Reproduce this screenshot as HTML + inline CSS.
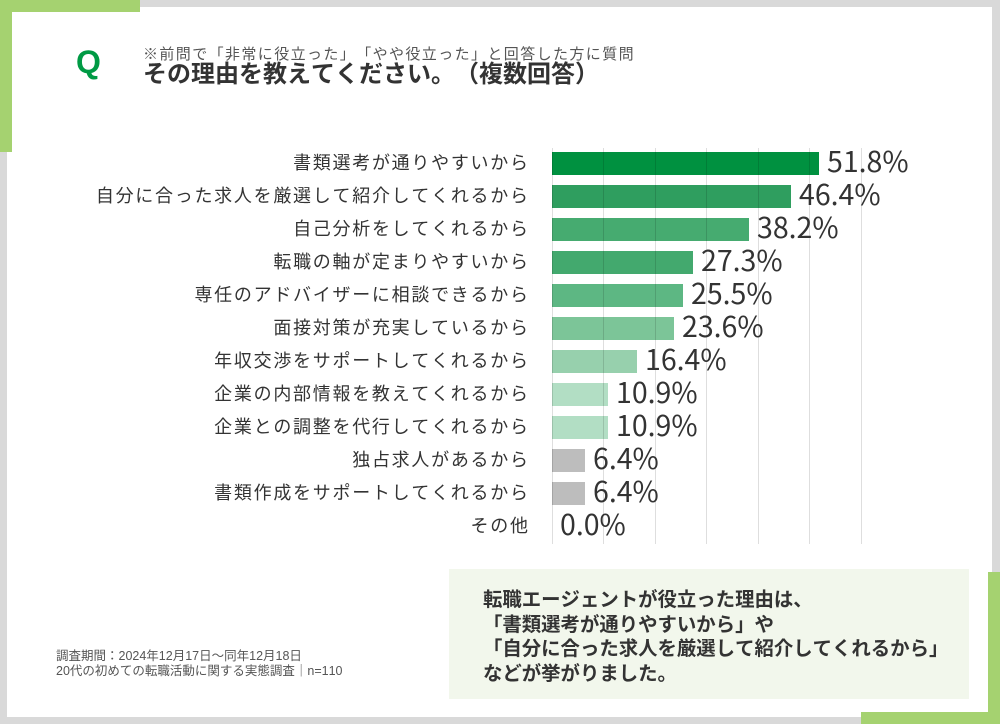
<!DOCTYPE html>
<html lang="ja">
<head>
<meta charset="utf-8">
<style>
  html,body{margin:0;padding:0;}
  body{width:1000px;height:724px;position:relative;overflow:hidden;background:#d9d9d9;
       font-family:"Liberation Sans","Noto Sans CJK JP",sans-serif;color:#333;
       text-spacing-trim:space-all;font-kerning:none;}
  .abs{position:absolute;}
  .panel{left:7px;top:7px;width:985px;height:710px;background:#fff;}
  .g{background:#a5d270;}
  .q{left:76px;top:42px;height:40px;line-height:40px;font-size:32px;font-weight:bold;color:#009a44;
     font-family:"Liberation Sans",sans-serif;}
  .sub{left:143px;top:45px;height:20px;line-height:20px;font-size:15px;letter-spacing:1.4px;color:#555;white-space:nowrap;}
  .title{left:143px;top:61px;height:28px;line-height:28px;font-size:24px;font-weight:bold;color:#333;white-space:nowrap;}
  .lbl{right:470.3px;height:24px;line-height:24px;font-size:18px;letter-spacing:1.72px;color:#333;white-space:nowrap;text-align:right;}
  .bar{left:552px;height:23px;}
  .val{height:34px;line-height:34px;font-size:28.5px;color:#333;white-space:nowrap;
       font-family:"Noto Sans CJK JP","Liberation Sans",sans-serif;}
  .grid{top:148px;width:1px;height:396px;background:rgba(0,0,0,0.13);}
  .note{left:449px;top:569px;width:520px;height:130px;background:#f2f7ec;}
  .nt{left:483px;top:588px;font-size:19.4px;line-height:24.5px;font-weight:bold;color:#333;white-space:nowrap;}
  .foot{left:56px;top:649px;font-size:12.5px;line-height:15px;color:#555;white-space:nowrap;}
</style>
</head>
<body>
<div class="abs panel"></div>
<!-- green corner accents -->
<div class="abs g" style="left:0;top:0;width:140px;height:12px;"></div>
<div class="abs g" style="left:0;top:0;width:12px;height:152px;"></div>
<div class="abs g" style="left:988px;top:572px;width:12px;height:152px;"></div>
<div class="abs g" style="left:861px;top:712px;width:139px;height:12px;"></div>

<div class="abs q">Q</div>
<div class="abs sub">※前問で「非常に役立った」「やや役立った」と回答した方に質問</div>
<div class="abs title">その理由を教えてください。（複数回答）</div>

<!-- bars -->
<div class="abs bar" style="top:152px;width:267px;background:#009140;"></div>
<div class="abs bar" style="top:185px;width:239px;background:#2f9e5f;"></div>
<div class="abs bar" style="top:218px;width:197px;background:#46ab70;"></div>
<div class="abs bar" style="top:251px;width:141px;background:#43a96e;"></div>
<div class="abs bar" style="top:284px;width:131px;background:#5db783;"></div>
<div class="abs bar" style="top:317px;width:122px;background:#7cc598;"></div>
<div class="abs bar" style="top:350px;width:85px;background:#97d0ad;"></div>
<div class="abs bar" style="top:383px;width:56px;background:#b2dec4;"></div>
<div class="abs bar" style="top:416px;width:56px;background:#b2dec4;"></div>
<div class="abs bar" style="top:449px;width:33px;background:#bdbdbd;"></div>
<div class="abs bar" style="top:482px;width:33px;background:#bdbdbd;"></div>

<!-- grid lines -->
<div class="abs grid" style="left:552px;"></div>
<div class="abs grid" style="left:603px;"></div>
<div class="abs grid" style="left:655px;"></div>
<div class="abs grid" style="left:706px;"></div>
<div class="abs grid" style="left:758px;"></div>
<div class="abs grid" style="left:809px;"></div>
<div class="abs grid" style="left:861px;"></div>

<!-- category labels -->
<div class="abs lbl" style="top:151px;">書類選考が通りやすいから</div>
<div class="abs lbl" style="top:184px;">自分に合った求人を厳選して紹介してくれるから</div>
<div class="abs lbl" style="top:217px;">自己分析をしてくれるから</div>
<div class="abs lbl" style="top:250px;">転職の軸が定まりやすいから</div>
<div class="abs lbl" style="top:283px;">専任のアドバイザーに相談できるから</div>
<div class="abs lbl" style="top:316px;">面接対策が充実しているから</div>
<div class="abs lbl" style="top:349px;">年収交渉をサポートしてくれるから</div>
<div class="abs lbl" style="top:382px;">企業の内部情報を教えてくれるから</div>
<div class="abs lbl" style="top:415px;">企業との調整を代行してくれるから</div>
<div class="abs lbl" style="top:448px;">独占求人があるから</div>
<div class="abs lbl" style="top:481px;">書類作成をサポートしてくれるから</div>
<div class="abs lbl" style="top:514px;">その他</div>

<!-- value labels -->
<div class="abs val" style="left:827px;top:144px;">51.8%</div>
<div class="abs val" style="left:799px;top:177px;">46.4%</div>
<div class="abs val" style="left:757px;top:210px;">38.2%</div>
<div class="abs val" style="left:701px;top:243px;">27.3%</div>
<div class="abs val" style="left:691px;top:276px;">25.5%</div>
<div class="abs val" style="left:682px;top:309px;">23.6%</div>
<div class="abs val" style="left:645px;top:342px;">16.4%</div>
<div class="abs val" style="left:616px;top:375px;">10.9%</div>
<div class="abs val" style="left:616px;top:408px;">10.9%</div>
<div class="abs val" style="left:593px;top:441px;">6.4%</div>
<div class="abs val" style="left:593px;top:474px;">6.4%</div>
<div class="abs val" style="left:560px;top:507px;">0.0%</div>

<!-- footer -->
<div class="abs foot">調査期間：2024年12月17日～同年12月18日<br>20代の初めての転職活動に関する実態調査｜n=110</div>

<!-- note box -->
<div class="abs note"></div>
<div class="abs nt">転職エージェントが役立った理由は、<br>「書類選考が通りやすいから」や<br>「自分に合った求人を厳選して紹介してくれるから」<br>などが挙がりました。</div>
</body>
</html>
